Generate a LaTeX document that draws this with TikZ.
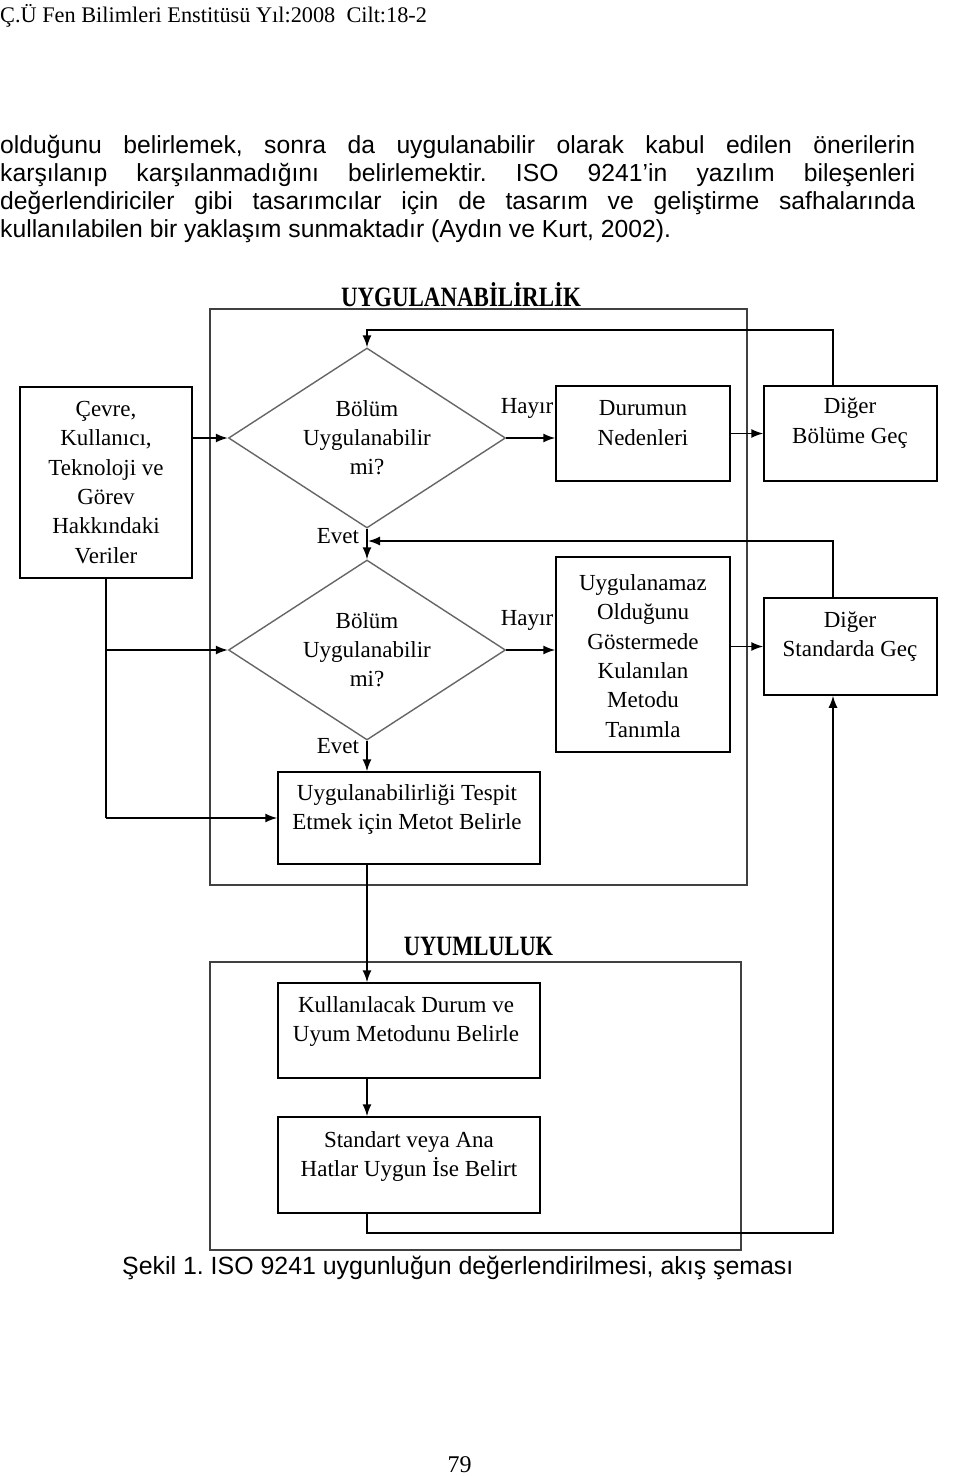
\documentclass[tikz,border=0pt]{standalone}
\usepackage{fontspec}
\usepackage{graphicx}
\setmainfont{Liberation Serif}
\newfontfamily\arialfont{Liberation Sans}
\usetikzlibrary{shapes.geometric,arrows.meta,calc}
\frenchspacing
\begin{document}
\begin{tikzpicture}[x=1pt,y=-1pt,
  box/.style={draw=black,line width=1.5pt,inner sep=0pt},
  txt/.style={font=\fontsize{23}{29.3}\selectfont,align=center,inner sep=0pt},
  dia/.style={diamond,draw=black!60,line width=1.4pt,minimum width=277pt,minimum height=180pt,aspect=1.54,inner sep=0pt,font=\fontsize{23}{29}\selectfont,align=center},
  frame/.style={draw=black!75,line width=1.5pt,inner sep=0pt},
  conn/.style={line width=1.5pt,-{Latex[length=12pt,width=9pt]}},
  plain/.style={line width=1.5pt},
  lbl/.style={font=\fontsize{23}{29}\selectfont,inner sep=0pt},
  ttl/.style={font=\bfseries\fontsize{28}{30}\selectfont,inner sep=0pt},
  body/.style={font=\arialfont\fontsize{24.7}{28}\selectfont,inner sep=0pt,anchor=base west}
]
\useasboundingbox[fill=white] (0,0) rectangle (960,1476);

% header and body text
\node[inner sep=0pt,anchor=base west,font=\fontsize{22.3}{24}\selectfont] (hdr) at (0,22) {Ç.Ü Fen Bilimleri Enstitüsü Yıl:2008\ \ Cilt:18-2};
\node[body] (l1) at (0,153) {\makebox[915pt][s]{olduğunu belirlemek, sonra da uygulanabilir olarak kabul edilen önerilerin}};
\node[body] (l2) at (0,181) {\makebox[915pt][s]{karşılanıp karşılanmadığını belirlemektir. ISO 9241’in yazılım bileşenleri}};
\node[body] (l3) at (0,209) {\makebox[915pt][s]{değerlendiriciler gibi tasarımcılar için de tasarım ve geliştirme safhalarında}};
\node[body] (l4) at (0,237) {kullanılabilen bir yaklaşım sunmaktadır (Aydın ve Kurt, 2002).};

% frames
\node[frame,minimum width=537pt,minimum height=576pt] (f1) at (478.5,597) {};
\node[ttl] (t1) at (461,295) {\scalebox{0.82}[1]{UYGULANABİLİRLİK}};
\node[frame,minimum width=531pt,minimum height=288pt] (f2) at (475.5,1106) {};
\node[ttl] (t2) at (478.5,946) {\scalebox{0.8}[1]{UYUMLULUK}};

% boxes
\node[box,minimum width=172pt,minimum height=191pt] (veri) at (106,482.5) {};
\node[txt] (tveri) at (106,482.5) {Çevre,\\Kullanıcı,\\Teknoloji ve\\Görev\\Hakkındaki\\Veriler};

\node[dia] (d1) at (367,438) {Bölüm\\Uygulanabilir\\mi?};
\node[dia] (d2) at (367,650) {Bölüm\\Uygulanabilir\\mi?};

\node[box,minimum width=174pt,minimum height=95pt] (dn) at (643,433.5) {};
\node[txt] (tdn) at (643,423) {Durumun\\Nedenleri};
\node[box,minimum width=173pt,minimum height=95pt] (db) at (850.5,433.5) {};
\node[txt] (tdb) at (850,423) {Diğer\\Bölüme Geç};

\node[box,minimum width=174pt,minimum height=195pt] (un) at (643,654.5) {};
\node[txt] (tun) at (643,656) {Uygulanamaz\\Olduğunu\\Göstermede\\Kulanılan\\Metodu\\Tanımla};
\node[box,minimum width=173pt,minimum height=97pt] (ds) at (850.5,646.5) {};
\node[txt] (tds) at (850,636.5) {Diğer\\Standarda Geç};

\node[box,minimum width=262pt,minimum height=92pt] (tes) at (409,818) {};
\node[txt] (ttes) at (407,809.5) {Uygulanabilirliği Tespit\\Etmek için Metot Belirle};
\node[box,minimum width=262pt,minimum height=95pt] (kul) at (409,1030.5) {};
\node[txt] (tkul) at (406,1021.5) {Kullanılacak Durum ve\\Uyum Metodunu Belirle};
\node[box,minimum width=262pt,minimum height=96pt] (std) at (409,1165) {};
\node[txt] (tstd) at (409,1156.5) {Standart veya Ana\\Hatlar Uygun İse Belirt};

% labels
\node[lbl] (h1) at (527,408) {Hayır};
\node[lbl] (h2) at (527,620) {Hayır};
\node[lbl] (e1) at (338,536) {Evet};
\node[lbl] (e2) at (338,746) {Evet};

% coordinates
\coordinate (up1) at (833,330);
\coordinate (mid1) at (833,541);
\coordinate (bot1) at (833,1233);

% connectors
\draw[conn] (veri.east |- d1.west) -- (d1.west);
\draw[conn] (d1.east) -- (d1.east -| dn.west);
\draw[conn] (dn.east) -- (db.west);
\draw[conn] (up1 |- db.north) -- (up1) -| (d1.north);
\draw[conn] (d1.south) -- (d2.north);
\draw[conn] (mid1 |- ds.north) -- (mid1) -- ([xshift=1pt]mid1 -| d1.south);
\draw[plain] (veri.south) -- (veri.south |- tes.west);
\draw[conn] (veri.south |- d2.west) -- (d2.west);
\draw[conn] (veri.south |- tes.west) -- (tes.west);
\draw[conn] (d2.east) -- (d2.east -| un.west);
\draw[conn] (un.east |- ds.west) -- (ds.west);
\draw[conn] (d2.south) -- (d2.south |- tes.north);
\draw[conn] (tes.south -| d2.south) -- (kul.north -| d2.south);
\draw[conn] (kul.south -| d2.south) -- (std.north -| d2.south);
\draw[conn] (std.south -| d2.south) |- (bot1) -- (bot1 |- ds.south);

% caption and page number
\node[inner sep=0pt,anchor=base west,font=\arialfont\fontsize{24.9}{28}\selectfont] (cap) at (122,1274) {Şekil 1. ISO 9241 uygunluğun değerlendirilmesi, akış şeması};
\node[inner sep=0pt,font=\fontsize{24}{26}\selectfont] (pg) at (459.5,1465) {79};
\end{tikzpicture}
\end{document}
